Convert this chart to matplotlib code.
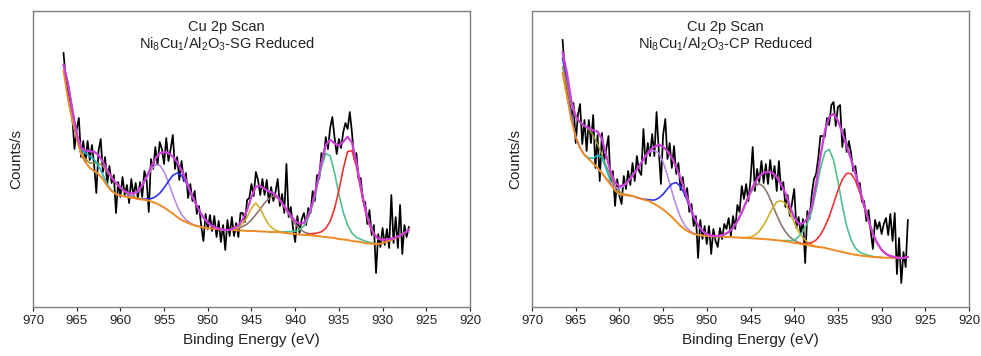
import numpy as np
import matplotlib
matplotlib.use("Agg")
import matplotlib.pyplot as plt

plt.rcParams["font.family"] = ["Liberation Sans", "DejaVu Sans"]
plt.rcParams["mathtext.default"] = "regular"

# Binding-energy grids (eV): fit curves every 0.5 eV, raw counts every 0.25 eV
FIT_START, FIT_STEP, FIT_N = 966.5, 0.5, 80
RAW_START, RAW_STEP, RAW_N = 966.5, 0.25, 159

# ---------------- SG reduced sample ----------------
sg_raw = [
    254, 228, 216, 204, 190, 158, 178, 189, 150, 166,
    145, 166, 147, 162, 142, 114, 156, 168, 135, 150,
    123, 141, 124, 132, 94, 125, 110, 130, 112, 122,
    104, 128, 111, 124, 109, 125, 110, 136, 127, 95,
    148, 138, 160, 142, 165, 158, 143, 169, 146, 158,
    172, 138, 150, 127, 146, 126, 134, 109, 123, 106,
    116, 93, 101, 81, 66, 93, 78, 92, 76, 91,
    70, 86, 65, 82, 57, 87, 71, 90, 71, 84,
    70, 94, 94, 85, 107, 109, 123, 111, 135, 127,
    112, 128, 112, 127, 104, 120, 106, 115, 128, 101,
    113, 94, 143, 90, 100, 79, 65, 91, 74, 88,
    94, 82, 99, 94, 116, 106, 132, 128, 154, 148,
    170, 158, 179, 190, 170, 153, 168, 159, 175, 184,
    178, 195, 174, 148, 154, 128, 129, 106, 105, 83,
    97, 72, 82, 34, 73, 60, 79, 62, 78, 59,
    112, 64, 90, 59, 102, 53, 82, 70, 80,
]
sg_background = [
    236, 209, 187, 169, 153, 145, 139, 136, 133, 128,
    121, 116, 113, 111.5, 110.5, 109.5, 109, 108, 107.5, 107,
    105.5, 104, 102, 99.5, 96.5, 93.5, 90, 87, 85, 83,
    81.5, 80.5, 79.5, 79, 78.5, 78, 77.5, 77, 77, 77,
    76.5, 76.5, 76, 76, 76, 75.5, 75.5, 75, 75, 75,
    74.5, 74, 73.5, 73, 72.5, 72, 72, 71.5, 71, 70.5,
    70, 69.5, 69, 68, 67.5, 67, 66, 65.5, 65, 64,
    63.5, 63, 63, 64, 65.5, 67, 69, 71.5, 74, 77,
]
# each component: height above background, starting energy of the list
sg_blue_hi = (966.5, [6.2, 14.6, 10.1, 2.0, 0.1, 0])
sg_olive = (966.0, [0, 0.2, 0.6, 1.4, 2.8, 5.0, 7.9, 10.8, 13.1, 14, 13.1,
                    10.8, 7.9, 5.0, 2.8, 1.4, 0.6, 0.2, 0])
sg_cyan = (966.0, [0, 0.6, 2.0, 4.9, 8.9, 11.7, 11.4, 8.1, 4.2, 1.6, 0.5, 0.1, 0])
sg_lavender = (960.0, [0, 0.4, 1.3, 3.3, 7.3, 13.7, 22.4, 31.5, 38.2, 39.9, 36.0,
                       28.0, 18.8, 10.8, 5.4, 2.3, 0.9, 0.3, 0])
sg_blue = (958.0, [0, 0.4, 1.1, 2.8, 6.1, 11.7, 19.7, 29.2, 38.2, 44.0, 44.5,
                   39.7, 31.2, 24, 16, 10, 5.5, 2.5, 1, 0.3, 0])
sg_brown = (947.5, [0, 1, 2, 4, 7, 11, 16.5, 22.5, 28.5, 33.5, 36, 34, 29,
                    22.5, 16, 10, 6, 3, 1.5, 0.5, 0])
sg_yellow = (947.5, [0, 1, 3, 7, 14, 23, 28, 23, 14, 7, 3, 1, 0])
sg_green = (942.0, [0, 0.6, 1.3, 2.0, 2.9, 4.8, 8.9, 16.9, 30.3, 48.9, 69.2, 83.5,
                    81.7, 65.4, 44.8, 27.1, 14.9, 7.9, 4.3, 2.7, 1.9, 1.2, 0.6, 0])
sg_red = (939.0, [0, 1.0, 2.0, 2.9, 4.7, 8.6, 16.1, 29.3, 48.5, 70.7, 88.4, 90.3,
                  74.9, 52.9, 32.8, 18.3, 9.7, 5.2, 3.2, 2.2, 1.2, 0.5, 0])

# ---------------- CP reduced sample ----------------
cp_raw = [
    267, 236, 212, 214, 188, 204, 164, 192, 203, 163,
    187, 156, 187, 164, 192, 139, 172, 126, 174, 146,
    158, 171, 123, 136, 101, 128, 111, 103, 131, 118,
    136, 122, 144, 126, 151, 136, 132, 178, 143, 164,
    151, 173, 151, 195, 157, 123, 172, 188, 148, 164,
    139, 161, 133, 144, 117, 130, 111, 119, 95, 103,
    81, 91, 49, 87, 68, 81, 63, 81, 53, 78,
    66, 60, 79, 68, 83, 78, 89, 71, 91, 78,
    102, 95, 121, 108, 123, 106, 127, 160, 116, 138,
    125, 146, 124, 143, 123, 147, 128, 141, 116, 146,
    117, 125, 100, 112, 91, 104, 118, 79, 90, 73,
    88, 44, 96, 88, 112, 128, 133, 149, 171, 171,
    170, 189, 182, 202, 205, 181, 200, 202, 160, 178,
    155, 166, 154, 136, 141, 122, 124, 105, 106, 86,
    97, 76, 58, 87, 78, 85, 73, 83, 89, 72,
    93, 66, 94, 33, 69, 24, 55, 40, 87,
]
cp_background = [
    234, 211, 187, 170, 159, 152, 148, 143.5, 139, 134,
    128, 122.5, 116.5, 113, 112, 111.5, 111, 109.5, 108, 107,
    105.5, 103, 100.5, 97.5, 94, 90, 85.5, 81, 77.5, 75,
    73, 72, 71.5, 71, 70.7, 70.5, 70.3, 70.2, 70, 69.7,
    69.5, 69.3, 69, 68.8, 68.6, 68.3, 68, 67.6, 67.2, 66.8,
    66.3, 65.7, 65, 64.3, 63.5, 62.7, 62, 61, 60.3, 59.8,
    59.3, 58, 57, 56, 55, 54, 53, 52.2, 51.5, 51,
    50.5, 50, 49.8, 49.5, 49.3, 49.2, 49, 49, 49, 50,
]
cp_blue_hi = (966.5, [14.8, 13.4, 4.4, 0.5, 0])
cp_olive = (966.5, [5.8, 9.7, 14.8, 20.5, 25.6, 29.1, 29.9, 28.0, 23.7, 18.2,
                    12.7, 8.0, 4.6, 2.4, 1.1, 0.5, 0.2, 0])
cp_cyan = (964.5, [0, 0.1, 1.1, 5.2, 12.8, 15.8, 9.7, 3.0, 0.5, 0])
cp_lavender = (962.5, [0, 0.3, 0.8, 1.6, 3.0, 5.3, 8.9, 13.8, 20.3, 27.9, 36.0,
                       43.7, 49.8, 53.4, 53.5, 47.6, 37.4, 25.8, 15.7, 8.4, 3.9,
                       1.6, 0.6, 0.2, 0])
cp_blue = (958.0, [0, 0.2, 0.6, 1.6, 3.9, 8.4, 15.3, 24.3, 33.1, 39.0, 39.5,
                   34.6, 26.1, 17.0, 9.6, 4.6, 1.9, 0.7, 0.2, 0])
cp_brown = (949.5, [0, 0.4, 1.0, 2.4, 5.0, 9.5, 16.2, 25.2, 35.5, 45.3, 52.4, 55,
                    52.4, 45.3, 35.5, 25.2, 16.2, 9.5, 5.0, 2.4, 1.0, 0.4, 0])
cp_yellow = (946.0, [0, 0.5, 1.3, 3.3, 7.3, 13.8, 22.4, 31.5, 38.2, 39.9, 38,
                     29.5, 20, 12, 6.5, 3, 1.2, 0.4, 0])
cp_green = (941.5, [0, 0.8, 1.4, 2.7, 6.7, 13.3, 21.9, 34.4, 56.0, 78.6, 95.4, 99.7,
                    89.9, 69.9, 46.8, 27.1, 14.3, 6.7, 3.3, 1.9, 1.1, 0.6, 0.2, 0])
cp_red = (940.0, [0, 0.2, 0.6, 1.5, 3.3, 6.7, 12.3, 20.9, 32.5, 46.2, 60.5, 72.5,
                  79.7, 80.4, 74.4, 63.1, 49.1, 35.1, 22.9, 13.8, 7.6, 3.8, 1.8,
                  0.8, 0.3, 0])

x_ticks = [970, 965, 960, 955, 950, 945, 940, 935, 930, 925, 920]

COLORS = {
    "blue_hi": "#3a3ce0", "olive": "#9a8f3c", "cyan": "#1fb5c9",
    "lavender": "#b98be3", "blue": "#2e35e6", "brown": "#8e7470",
    "yellow": "#d2b12f", "green": "#4fc18e", "red": "#ee3434",
}
BG_COLOR = "#f08a24"
ENV_COLOR = "#cc3fd8"

fit_energy = FIT_START - FIT_STEP * np.arange(FIT_N)
raw_energy = RAW_START - RAW_STEP * np.arange(RAW_N)


def grid_index(start, n):
    first = int(round((FIT_START - start) / FIT_STEP))
    return first + np.arange(n)


def draw_panel(ax, raw, background, comps, sample):
    bg = np.asarray(background, float)
    env = bg.copy()
    ax.plot(raw_energy, raw, color="black", lw=1.25, zorder=2)
    for name, (start, vals) in comps.items():
        vals = np.asarray(vals, float)
        idx = grid_index(start, len(vals))
        env[idx] += vals
        ax.plot(fit_energy[idx], bg[idx] + vals, color=COLORS[name], lw=1.2, zorder=3)
    ax.plot(fit_energy, bg, color=BG_COLOR, lw=1.4, zorder=3)
    ax.plot(fit_energy, env, color=ENV_COLOR, lw=1.6, zorder=4)

    ax.set_xlim(970, 920)
    ax.set_ylim(0, 296)
    ax.set_xticks(x_ticks)
    ax.set_yticks([])
    ax.tick_params(axis="x", direction="out", length=3, width=0.8,
                   labelsize=9.5, colors="#222222", pad=3)
    for s in ax.spines.values():
        s.set_color("#808080")
        s.set_linewidth(1.0)
    ax.set_xlabel("Binding Energy (eV)", fontsize=11, labelpad=4, color="#222222")
    ax.set_ylabel("Counts/s", fontsize=11, labelpad=7, color="#222222")
    ax.text(0.443, 0.946, "Cu 2p Scan", transform=ax.transAxes,
            ha="center", va="center", fontsize=10.5, color="#222222")
    ax.text(0.443, 0.889, "Ni$_8$Cu$_1$/Al$_2$O$_3$-" + sample + " Reduced",
            transform=ax.transAxes, ha="center", va="center", fontsize=10.5,
            color="#222222")


fig = plt.figure(figsize=(9.81, 3.56), dpi=100)
ax_sg = fig.add_axes([0.0336, 0.1376, 0.4455, 0.8315])
ax_cp = fig.add_axes([0.5423, 0.1376, 0.4455, 0.8315])

draw_panel(ax_sg, sg_raw, sg_background, {
    "blue_hi": sg_blue_hi, "olive": sg_olive, "cyan": sg_cyan,
    "lavender": sg_lavender, "blue": sg_blue, "brown": sg_brown,
    "yellow": sg_yellow, "green": sg_green, "red": sg_red,
}, "SG")
draw_panel(ax_cp, cp_raw, cp_background, {
    "blue_hi": cp_blue_hi, "olive": cp_olive, "cyan": cp_cyan,
    "lavender": cp_lavender, "blue": cp_blue, "brown": cp_brown,
    "yellow": cp_yellow, "green": cp_green, "red": cp_red,
}, "CP")

fig.savefig("out.png", dpi=100)
